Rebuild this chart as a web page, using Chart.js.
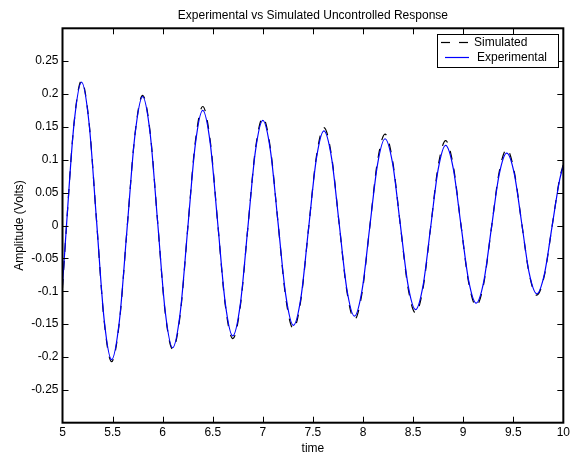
<!DOCTYPE html>
<html>
<head>
<meta charset="utf-8">
<script src="https://cdn.jsdelivr.net/npm/chart.js@4.4.1/dist/chart.umd.min.js"></script>
<style>
  body { margin: 0; background: #fff; }
  canvas { display: block; }
</style>
</head>
<body>
<canvas id="response-chart" width="573" height="457"></canvas>
<script>
// sample times (s), read at extrema, zero crossings and in between
const times = [
  5.00, 5.038, 5.114, 5.19, 5.265, 5.34, 5.415, 5.49,
  5.568, 5.645, 5.723, 5.80, 5.875, 5.95, 6.025, 6.10,
  6.175, 6.25, 6.325, 6.40, 6.475, 6.55, 6.625, 6.70,
  6.775, 6.85, 6.925, 7.00, 7.076, 7.152, 7.229, 7.305,
  7.381, 7.457, 7.534, 7.61, 7.686, 7.762, 7.839, 7.915,
  7.991, 8.067, 8.144, 8.22, 8.296, 8.372, 8.449, 8.525,
  8.60, 8.675, 8.75, 8.825, 8.901, 8.977, 9.054, 9.13,
  9.206, 9.282, 9.359, 9.435, 9.51, 9.585, 9.66, 9.735,
  9.811, 9.887, 9.964, 10.0
];

const experimental = [
  -0.091, -0.004, 0.153, 0.218, 0.156, 0.007, -0.142, -0.204,
  -0.145, -0.004, 0.137, 0.196, 0.140, 0.005, -0.130, -0.186,
  -0.133, -0.005, 0.122, 0.175, 0.125, 0.003, -0.118, -0.168,
  -0.120, -0.004, 0.112, 0.160, 0.114, 0.004, -0.106, -0.152,
  -0.109, -0.004, 0.101, 0.144, 0.103, 0.003, -0.097, -0.138,
  -0.098, -0.003, 0.092, 0.132, 0.094, 0.002, -0.090, -0.128,
  -0.091, -0.003, 0.085, 0.122, 0.087, 0.002, -0.083, -0.118,
  -0.085, -0.004, 0.077, 0.110, 0.079, 0.003, -0.073, -0.104,
  -0.074, -0.002, 0.070, 0.091
];

const simulated = [
  -0.095, -0.005, 0.154, 0.220, 0.157, 0.007, -0.144, -0.207,
  -0.147, -0.004, 0.138, 0.198, 0.142, 0.005, -0.132, -0.188,
  -0.136, -0.005, 0.126, 0.181, 0.129, 0.003, -0.121, -0.172,
  -0.123, -0.004, 0.115, 0.164, 0.117, 0.004, -0.110, -0.157,
  -0.112, -0.004, 0.104, 0.149, 0.106, 0.003, -0.100, -0.143,
  -0.102, -0.003, 0.097, 0.139, 0.098, 0.002, -0.094, -0.133,
  -0.095, -0.003, 0.090, 0.129, 0.091, 0.002, -0.086, -0.122,
  -0.088, -0.004, 0.081, 0.116, 0.082, 0.003, -0.074, -0.106,
  -0.076, -0.002, 0.072, 0.093
];

const xTicks = [5, 5.5, 6, 6.5, 7, 7.5, 8, 8.5, 9, 9.5, 10];

const FONT = 'Arial, "Liberation Sans", Helvetica, sans-serif';

// matlab style box with inward ticks on all four sides, plus the legend
const matlabFrame = {
  id: 'matlabFrame',
  afterDatasetsDraw(chart) {
    const {ctx, chartArea: a, scales} = chart;
    ctx.save();
    ctx.strokeStyle = '#000';
    ctx.lineWidth = 1;
    const tl = 6;
    ctx.beginPath();
    scales.x.ticks.forEach(t => {
      const px = Math.round(scales.x.getPixelForValue(t.value)) + 0.5;
      if (px <= a.left + 1 || px >= a.right - 1) return;
      ctx.moveTo(px, a.bottom); ctx.lineTo(px, a.bottom - tl);
      ctx.moveTo(px, a.top); ctx.lineTo(px, a.top + tl);
    });
    scales.y.ticks.forEach(t => {
      const py = Math.round(scales.y.getPixelForValue(t.value)) + 0.5;
      if (py <= a.top + 1 || py >= a.bottom - 1) return;
      ctx.moveTo(a.left, py); ctx.lineTo(a.left + tl, py);
      ctx.moveTo(a.right, py); ctx.lineTo(a.right - tl, py);
    });
    ctx.stroke();
    ctx.lineWidth = 2;
    ctx.strokeRect(a.left, a.top, a.right - a.left, a.bottom - a.top);

    // legend
    const bx = 437.5, by = 34.5, bw = 121, bh = 33;
    ctx.fillStyle = '#fff';
    ctx.fillRect(bx, by, bw, bh);
    ctx.lineWidth = 1;
    ctx.strokeStyle = '#000';
    ctx.strokeRect(bx, by, bw, bh);
    ctx.font = '12px ' + FONT;
    ctx.textBaseline = 'middle';
    ctx.textAlign = 'left';
    const rows = [
      {ds: chart.data.datasets[0], y: 42.5, x0: 441, x1: 468, tx: 474},
      {ds: chart.data.datasets[1], y: 57.5, x0: 445, x1: 469, tx: 477}
    ];
    rows.forEach(r => {
      ctx.strokeStyle = r.ds.borderColor;
      ctx.lineWidth = 1.2;
      ctx.setLineDash(r.ds.borderDash || []);
      ctx.beginPath();
      ctx.moveTo(r.x0, r.y); ctx.lineTo(r.x1, r.y);
      ctx.stroke();
      ctx.setLineDash([]);
      ctx.fillStyle = '#000';
      ctx.fillText(r.ds.label, r.tx, r.y);
    });
    ctx.restore();
  }
};

const ctx = document.getElementById('response-chart');

const chart = new Chart(ctx, {
  type: 'line',
  data: {
    datasets: [{
      label: 'Simulated',
      data: times.map((t, i) => ({x: t, y: simulated[i]})),
      borderColor: '#000000',
      borderWidth: 1.2,
      borderDash: [9, 9],
      order: 1
    }, {
      label: 'Experimental',
      data: times.map((t, i) => ({x: t, y: experimental[i]})),
      borderColor: '#0000ff',
      borderWidth: 1.2,
      order: 0
    }]
  },
  options: {
    responsive: false,
    animation: false,
    events: [],
    layout: { padding: { left: 0, right: 8.5, top: 0, bottom: 0 } },
    elements: {
      point: { radius: 0 },
      line: { cubicInterpolationMode: 'monotone', fill: false }
    },
    plugins: {
      legend: { display: false },
      tooltip: { enabled: false },
      title: {
        display: true,
        fullSize: false,
        text: 'Experimental vs Simulated Uncontrolled Response',
        color: '#000',
        font: { family: FONT, size: 12, weight: 'normal' },
        padding: { top: 8.5, bottom: 5.4 }
      }
    },
    scales: {
      x: {
        type: 'linear',
        min: 5,
        max: 10,
        afterBuildTicks: s => { s.ticks = xTicks.map(v => ({value: v})); },
        afterFit: s => { s.height = 34.3; },
        grid: { display: false, drawTicks: false },
        border: { display: false },
        ticks: {
          color: '#000',
          padding: 3,
          maxRotation: 0,
          autoSkip: false,
          font: { family: FONT, size: 12 },
          callback: v => String(v)
        },
        title: {
          display: true,
          text: 'time',
          color: '#000',
          font: { family: FONT, size: 12 },
          padding: { top: 0, bottom: 0.8 }
        }
      },
      y: {
        min: -0.3,
        max: 0.3,
        afterFit: s => { s.width = 62.5; },
        grid: { display: false, drawTicks: false },
        border: { display: false },
        ticks: {
          stepSize: 0.05,
          color: '#000',
          padding: 4,
          font: { family: FONT, size: 12 },
          callback: v => Math.abs(v) > 0.29 ? '' : String(+v.toFixed(2))
        },
        title: {
          display: true,
          text: 'Amplitude (Volts)',
          color: '#000',
          font: { family: FONT, size: 12 },
          padding: { top: 12.3, bottom: 0 }
        }
      }
    }
  },
  plugins: [matlabFrame]
});
</script>
</body>
</html>
